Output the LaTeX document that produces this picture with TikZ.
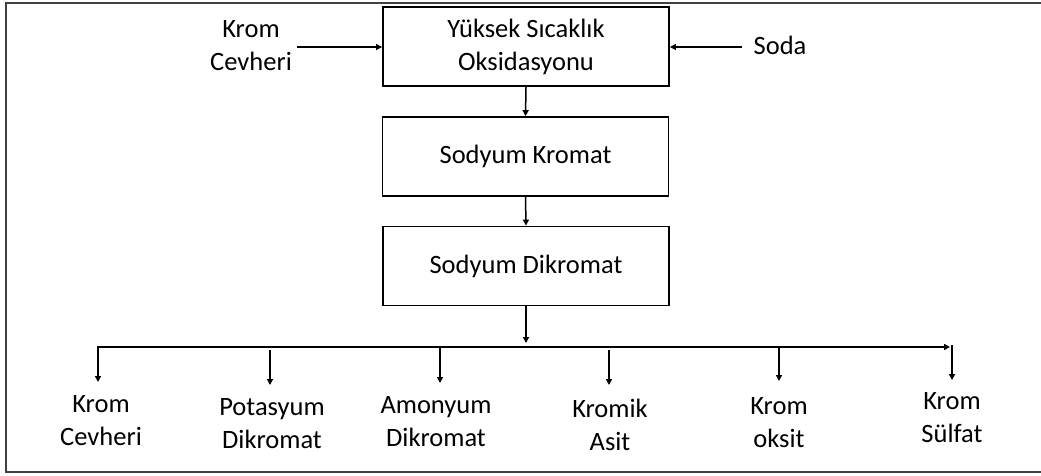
\documentclass[tikz,border=0pt]{standalone}
\usepackage{fontspec}
\setmainfont{Carlito}
\usetikzlibrary{arrows.meta}
\begin{document}
\begin{tikzpicture}[x=1pt,y=-1pt,
  lbl/.style={font=\fontsize{26.5}{33}\selectfont, align=center, inner sep=0pt},
  procbox/.style={draw, line width=1.8pt, minimum width=286pt, minimum height=79pt,
     font=\fontsize{26.5}{33}\selectfont, align=center, inner sep=0pt},
  arr/.style={line width=1.5pt, -{Triangle[length=6pt,width=6pt]}},
  frame/.style={line width=1.6pt, draw=black!75}]
\useasboundingbox (0,0) rectangle (1041,475);
\draw[frame] (1041,3) -- (6,3) -- (6,472) -- (1041,472);
% process boxes
\node[procbox] (b1) at (526,46.5) {Yüksek Sıcaklık\\Oksidasyonu};
\node[procbox] (b2) at (525.5,156.5) {Sodyum Kromat};
\node[procbox] (b3) at (526,266) {Sodyum Dikromat};
% inputs
\node[lbl] (kc) at (251,46) {Krom\\Cevheri};
\node[lbl] (soda) at (780,45) {Soda};
\coordinate (kcs) at (297,47);
\coordinate (sds) at (742,47);
\draw[arr] (kcs) -- (kcs -| b1.west);
\draw[arr] (sds) -- (sds -| b1.east);
\draw[arr] (b1.south) -- (b2.north);
\draw[arr] (b2.south) -- (b3.north);
% distribution bar
\coordinate (bj) at (526,343);
\draw[arr] (b3.south) -- (bj);
\coordinate (c1) at (98,347);
\coordinate (cend) at (950,347);
\coordinate (e1) at (98,382);
\draw[line width=1.5pt, {Triangle[length=6pt,width=6pt]}-{Triangle[length=6pt,width=6pt]}] (e1) -- (c1) -- (cend);
\coordinate (c2) at (270,350); \coordinate (e2) at (270,385);
\coordinate (c3) at (440,347); \coordinate (e3) at (440,383);
\coordinate (c4) at (609,350); \coordinate (e4) at (609,385);
\coordinate (c5) at (779,347); \coordinate (e5) at (779,381);
\coordinate (c6) at (952,345); \coordinate (e6) at (952,380);
\draw[arr] (c2) -- (e2);
\draw[arr] (c3) -- (e3);
\draw[arr] (c4) -- (e4);
\draw[arr] (c5) -- (e5);
\draw[arr] (c6) -- (e6);
% products
\node[lbl] (p1) at (101,421) {Krom\\Cevheri};
\node[lbl] (p2) at (272,423.5) {Potasyum\\Dikromat};
\node[lbl] (p3) at (436,421.5) {Amonyum\\Dikromat};
\node[lbl] (p4) at (610,425) {Kromik\\Asit};
\node[lbl] (p5) at (779,422.5) {Krom\\oksit};
\node[lbl] (p6) at (952,418) {Krom\\Sülfat};
\end{tikzpicture}
\end{document}
